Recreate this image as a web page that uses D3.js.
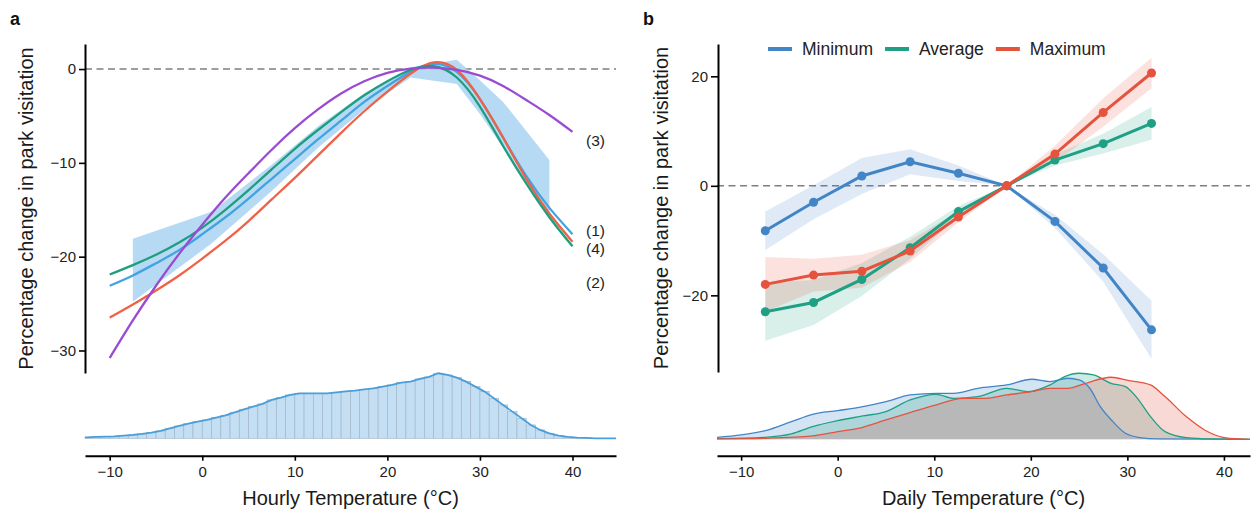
<!DOCTYPE html>
<html>
<head>
<meta charset="utf-8">
<script src="https://cdn.jsdelivr.net/npm/d3@7"></script>
<style>
  body { margin: 0; background: #fff; }
  svg text { font-family: "Liberation Sans", Arial, sans-serif; }
</style>
</head>
<body>
<svg id="chart" width="1253" height="512"></svg>
<script>
// ---------- Panel a: hourly temperature ----------
const hourlyTemp = [-10, -7.5, -5, -2.5, 0, 2.5, 5, 7.5, 10, 12.5, 15, 17.5, 20, 22.5, 25, 27.5, 30, 32.5, 35, 37.5, 40];
const model1 = [-23.1, -22.0, -20.7, -19.3, -17.6, -15.8, -13.8, -11.7, -9.6, -7.5, -5.5, -3.5, -1.8, -0.3, 0.55, -0.3, -3.2, -7.3, -11.4, -14.8, -17.6];
const model2 = [-26.5, -25.1, -23.6, -22.0, -20.2, -18.3, -16.2, -13.9, -11.6, -9.2, -6.8, -4.5, -2.4, -0.5, 0.7, -0.1, -3.2, -7.3, -11.7, -15.4, -18.4];
const model3 = [-30.8, -26.8, -23.1, -19.7, -16.6, -13.7, -11.1, -8.6, -6.3, -4.3, -2.6, -1.3, -0.4, 0.05, 0.15, -0.1, -0.7, -1.8, -3.3, -4.9, -6.7];
const model4 = [-21.9, -20.9, -19.8, -18.5, -16.9, -15.0, -12.9, -10.7, -8.5, -6.5, -4.6, -2.8, -1.3, -0.1, 0.3, -0.9, -4.0, -8.2, -12.2, -15.8, -18.9];
const modelLabels = ["(1)", "(2)", "(3)", "(4)"];
const modelLabelY = [-17.2, -22.7, -7.6, -19.1];

// binned estimate interval
const binTemp  = [-7.5, 1, 7.5, 12.5, 17.5, 22.5, 27.5, 30, 32.5, 37.5];
const binLower = [-24.8, -18.6, -13.0, -8.4, -4.3, -0.9, -1.6, -4.8, -8.4, -15.7];
const binUpper = [-18.1, -15.2, -10.2, -6.1, -2.6, 0.2, 1.0, -1.2, -3.5, -9.7];

// hourly temperature frequency (1 °C bins, lower edges)
const histEdges = [-13, -12, -11, -10, -9, -8, -7, -6, -5, -4, -3, -2, -1, 0, 1, 2, 3, 4, 5, 6, 7, 8, 9, 10, 11, 12, 13, 14, 15, 16, 17, 18, 19, 20, 21, 22, 23, 24, 25, 26, 27, 28, 29, 30, 31, 32, 33, 34, 35, 36, 37, 38, 39, 40, 41, 42, 43, 44];
const histCounts = [3, 4, 5, 6, 8, 10, 13, 17, 22, 30, 37, 44, 50, 55, 62, 69, 78, 87, 95, 103, 115, 122, 130, 135, 135, 135, 135, 138, 141, 143, 147, 150, 155, 160, 167, 170, 178, 184, 195, 190, 182, 170, 155, 140, 120, 100, 80, 60, 40, 25, 15, 8, 4, 2, 1, 0, 0, 0];

// ---------- Panel b: daily temperature ----------
const dailyTemp = [-7.5, -2.5, 2.5, 7.5, 12.5, 17.5, 22.5, 27.5, 32.5];
const minEst = [-8.2, -3.0, 1.8, 4.4, 2.3, 0, -6.5, -15.0, -26.3];
const minLo  = [-11.7, -6.1, -1.5, 2.1, 0.9, 0, -7.7, -17.5, -31.6];
const minHi  = [-4.7, 0.1, 5.1, 6.7, 3.7, 0, -5.3, -12.5, -21.0];
const avgEst = [-23.0, -21.3, -17.1, -11.3, -4.7, 0, 4.7, 7.7, 11.4];
const avgLo  = [-28.3, -25.4, -20.1, -13.3, -5.7, 0, 3.7, 5.9, 8.4];
const avgHi  = [-17.7, -17.2, -14.1, -9.3, -3.7, 0, 5.7, 9.5, 14.4];
const maxEst = [-18.0, -16.3, -15.6, -11.9, -5.7, 0, 5.8, 13.4, 20.6];
const maxLo  = [-23.0, -19.3, -18.6, -13.9, -6.7, 0, 4.3, 10.8, 17.8];
const maxHi  = [-13.0, -13.3, -12.6, -9.9, -4.7, 0, 7.3, 16.0, 23.4];
const seriesNames = ["Minimum", "Average", "Maximum"];

// daily temperature distributions (relative density)
const minDensT = [-12.5, -10, -7.5, -4.8, -2.6, 0, 2.6, 5, 7.5, 10.2, 12, 14.5, 17.5, 20.1, 22, 23.8, 25, 26.1, 27.2, 28.5, 29.8, 31.3, 33.2, 42.7];
const minDens  = [6, 13, 26, 53, 75, 86, 98, 113, 133, 138, 138, 153, 163, 180, 173, 183, 178, 153, 98, 53, 18, 5, 1, 0];
const avgDensT = [-12.5, -7.5, -4.8, -2.6, 0, 2.6, 5, 7.5, 10.2, 12, 14.5, 17.5, 19.7, 22, 23.5, 25, 26.5, 28.3, 29.8, 30.9, 32.4, 33.9, 36.1, 38.7, 42.7];
const avgDens  = [2, 6, 16, 38, 56, 70, 83, 118, 135, 123, 128, 153, 143, 163, 188, 198, 193, 168, 158, 128, 68, 23, 5, 1, 0];
const maxDensT = [-12.5, -7.5, -2.6, 0, 2.6, 5, 7.5, 10.2, 13, 15.3, 17.5, 20.1, 22, 23.8, 25.7, 28.3, 30.2, 32.4, 33.9, 36.1, 38, 39.9, 41.7, 42.7];
const maxDens  = [1, 3, 10, 23, 36, 58, 80, 103, 123, 123, 133, 143, 153, 153, 168, 186, 176, 163, 128, 68, 28, 6, 1, 0];

const xTicks = [-10, 0, 10, 20, 30, 40];

// ---------- drawing ----------
const svg = d3.select("#chart");
const FONT_TICK = 15, FONT_TITLE = 20;

function styleAxis(g) {
  g.select(".domain").attr("stroke", "#000").attr("stroke-width", 2);
  g.selectAll(".tick line").attr("stroke", "#000").attr("stroke-width", 1.6);
  g.selectAll(".tick text").attr("fill", "#222").attr("font-size", FONT_TICK)
    .attr("font-family", "Liberation Sans, Arial, sans-serif");
}

// ===== Panel a =====
const xA = d3.scaleLinear().domain([-12.67, 44.7]).range([85, 616]);
const yA = d3.scaleLinear().domain([-32.4, 2.67]).range([373, 44]);
const yH = d3.scaleLinear().domain([0, 200]).range([438.3, 371.6]);

const gA = svg.append("g");

// histogram bars
gA.append("g").selectAll("rect").data(histEdges).join("rect")
  .attr("x", d => xA(Math.max(d, -12.67)))
  .attr("width", d => xA(Math.min(d + 1, 44.7)) - xA(Math.max(d, -12.67)))
  .attr("y", (d, i) => yH(histCounts[i]))
  .attr("height", (d, i) => yH(0) - yH(histCounts[i]))
  .attr("fill", "#c4dff3")
  .attr("stroke", "#a3b7c7")
  .attr("stroke-width", 0.7);

// histogram outline
const histLine = histEdges.map((d, i) => [Math.min(Math.max(d + 0.5, -12.67), 44.7), histCounts[i]]);
histLine.unshift([-12.67, histCounts[0]]);
histLine.push([44.7, 0]);
gA.append("path")
  .attr("d", d3.line().x(d => xA(d[0])).y(d => yH(d[1]))(histLine))
  .attr("fill", "none").attr("stroke", "#4a9fda").attr("stroke-width", 1.8);

// zero reference line
gA.append("line")
  .attr("x1", xA.range()[0]).attr("x2", xA.range()[1])
  .attr("y1", yA(0)).attr("y2", yA(0))
  .attr("stroke", "#7f7f7f").attr("stroke-width", 1.4).attr("stroke-dasharray", "7,4.5");

// interval band
gA.append("path")
  .attr("d", d3.area()
    .x((d, i) => xA(d)).y0((d, i) => yA(binLower[i])).y1((d, i) => yA(binUpper[i]))(binTemp))
  .attr("fill", "#a9d4f2").attr("fill-opacity", 0.85);

// model curves
const curveLine = d3.line().curve(d3.curveNatural).x((d, i) => xA(hourlyTemp[i])).y(d => yA(d));
const models = [
  { v: model1, c: "#42a3e1" },
  { v: model2, c: "#ee6247" },
  { v: model4, c: "#1f9d7f" },
  { v: model3, c: "#9a4bd1" }
];
models.forEach(m => {
  gA.append("path").attr("d", curveLine(m.v))
    .attr("fill", "none").attr("stroke", m.c).attr("stroke-width", 2.3);
});

// model labels
gA.append("g").selectAll("text").data(modelLabels).join("text")
  .attr("x", 586).attr("y", (d, i) => yA(modelLabelY[i]) + 5.5)
  .attr("font-size", 15.5).attr("fill", "#222").text(d => d);

// axes
const axA_x = gA.append("g").attr("transform", "translate(0,455.7)")
  .call(d3.axisBottom(xA).tickValues(xTicks).tickSize(5).tickSizeOuter(0).tickPadding(6));
styleAxis(axA_x);
const axA_y = gA.append("g").attr("transform", "translate(85,0)")
  .call(d3.axisLeft(yA).tickValues([0, -10, -20, -30]).tickSize(6).tickSizeOuter(0).tickPadding(3));
styleAxis(axA_y);

gA.append("text").attr("x", 350.5).attr("y", 505).attr("text-anchor", "middle")
  .attr("font-size", FONT_TITLE).attr("fill", "#1a1a1a").text("Hourly Temperature (°C)");
gA.append("text").attr("transform", "translate(32.5,208.5) rotate(-90)").attr("text-anchor", "middle")
  .attr("font-size", FONT_TITLE).attr("fill", "#1a1a1a").text("Percentage change in park visitation");
gA.append("text").attr("x", 10).attr("y", 25).attr("font-size", 18).attr("font-weight", "bold")
  .attr("fill", "#111").text("a");

// ===== Panel b =====
const xB = d3.scaleLinear().domain([-12.5, 42.7]).range([717, 1250]);
const yB = d3.scaleLinear().domain([-34, 25.9]).range([372, 44]);
const yD = d3.scaleLinear().domain([0, 200]).range([439.3, 372.6]);
const colB = ["#4285c7", "#1fa084", "#e5533e"];

const gB = svg.append("g");

// density layers
const dens = [[minDensT, minDens], [avgDensT, avgDens], [maxDensT, maxDens]];
dens.forEach((d, k) => {
  const pts = d[0].map((t, i) => [t, d[1][i]]);
  gB.append("path")
    .attr("d", d3.area().curve(d3.curveMonotoneX).x(p => xB(p[0])).y0(yD(0)).y1(p => yD(p[1]))(pts))
    .attr("fill", colB[k]).attr("fill-opacity", 0.22);
});
dens.forEach((d, k) => {
  const pts = d[0].map((t, i) => [t, d[1][i]]);
  gB.append("path")
    .attr("d", d3.line().curve(d3.curveMonotoneX).x(p => xB(p[0])).y(p => yD(p[1]))(pts))
    .attr("fill", "none").attr("stroke", colB[k]).attr("stroke-width", 1.3);
});

// zero reference line
gB.append("line")
  .attr("x1", xB.range()[0]).attr("x2", xB.range()[1])
  .attr("y1", yB(0)).attr("y2", yB(0))
  .attr("stroke", "#7f7f7f").attr("stroke-width", 1.4).attr("stroke-dasharray", "7,4.5");

const est = [
  { e: minEst, lo: minLo, hi: minHi },
  { e: avgEst, lo: avgLo, hi: avgHi },
  { e: maxEst, lo: maxLo, hi: maxHi }
];
est.forEach((s, k) => {
  gB.append("path")
    .attr("d", d3.area().x((d, i) => xB(d)).y0((d, i) => yB(s.lo[i])).y1((d, i) => yB(s.hi[i]))(dailyTemp))
    .attr("fill", colB[k]).attr("fill-opacity", 0.17);
});
est.forEach((s, k) => {
  gB.append("path")
    .attr("d", d3.line().x((d, i) => xB(d)).y((d, i) => yB(s.e[i]))(dailyTemp))
    .attr("fill", "none").attr("stroke", colB[k]).attr("stroke-width", 3);
  gB.append("g").selectAll("circle").data(dailyTemp).join("circle")
    .attr("cx", d => xB(d)).attr("cy", (d, i) => yB(s.e[i])).attr("r", 4.5)
    .attr("fill", colB[k]);
});

// legend
let lx = 768;
seriesNames.forEach((name, k) => {
  gB.append("line").attr("x1", lx).attr("x2", lx + 24).attr("y1", 49).attr("y2", 49)
    .attr("stroke", colB[k]).attr("stroke-width", 4);
  const t = gB.append("text").attr("x", lx + 34).attr("y", 55.3)
    .attr("font-size", 17.5).attr("fill", "#222").text(name);
  lx = lx + 34 + t.node().getComputedTextLength() + 12;
});

// axes
const axB_x = gB.append("g").attr("transform", "translate(0,455.7)")
  .call(d3.axisBottom(xB).tickValues(xTicks).tickSize(5).tickSizeOuter(0).tickPadding(6));
styleAxis(axB_x);
const axB_y = gB.append("g").attr("transform", "translate(718,0)")
  .call(d3.axisLeft(yB).tickValues([20, 0, -20]).tickSize(7).tickSizeOuter(0).tickPadding(3));
styleAxis(axB_y);

gB.append("text").attr("x", 983.5).attr("y", 505).attr("text-anchor", "middle")
  .attr("font-size", FONT_TITLE).attr("fill", "#1a1a1a").text("Daily Temperature (°C)");
gB.append("text").attr("transform", "translate(667.5,208) rotate(-90)").attr("text-anchor", "middle")
  .attr("font-size", FONT_TITLE).attr("fill", "#1a1a1a").text("Percentage change in park visitation");
gB.append("text").attr("x", 643).attr("y", 25).attr("font-size", 18).attr("font-weight", "bold")
  .attr("fill", "#111").text("b");
</script>
</body>
</html>
